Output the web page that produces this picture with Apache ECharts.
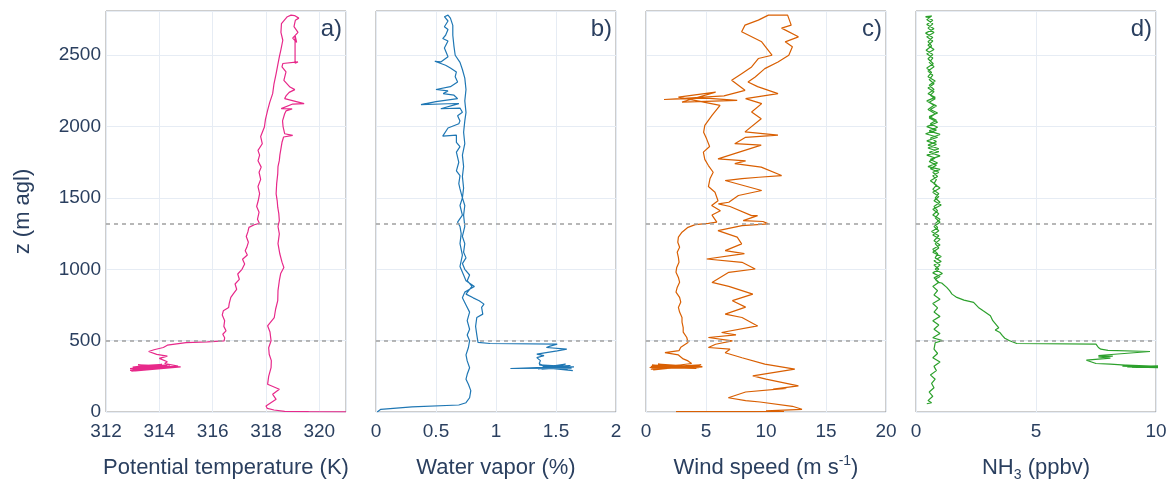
<!DOCTYPE html>
<html>
<head>
<meta charset="utf-8">
<script src="https://cdn.jsdelivr.net/npm/echarts@6/dist/echarts.min.js"></script>
<style>
  html, body { margin: 0; padding: 0; background: #fff; }
  #chart { width: 1169px; height: 487px; }
</style>
</head>
<body>
<div id="chart"></div>
<script>
// Vertical profiles: hover near 300 m, climb to ~2780 m, then descend to the ground.
// Each point is [value, altitude in m agl].

const potentialTemperature = [
  [313.0, 300], [314.2, 318], [312.9, 292], [314.4, 322], [313.1, 310], [314.6, 316], [312.95, 286],
  [314.0, 326], [313.2, 330], [314.5, 312], [313.0, 296], [313.9, 320], [312.9, 304], [314.3, 330],
  [313.1, 288], [314.8, 316], [313.4, 324], [313.0, 314], [314.1, 334], [313.3, 300], [314.7, 322],
  [314.2, 340], [314.3, 352], [314.0, 376], [314.3, 392], [313.9, 404], [313.6, 424], [313.8, 436],
  [314.15, 452], [314.1, 462], [314.3, 468], [314.25, 480], [315.0, 486], [315.8, 492], [316.43, 498],
  [316.45, 520], [316.38, 545], [316.5, 569], [316.42, 600], [316.45, 640], [316.36, 680], [316.4, 709],
  [316.6, 733], [316.62, 760], [316.68, 803], [316.78, 830], [316.9, 860], [316.84, 897], [317.0, 930],
  [316.94, 967], [317.1, 1000], [317.2, 1037], [317.12, 1070], [317.3, 1100], [317.22, 1130],
  [317.28, 1154], [317.34, 1190], [317.26, 1230], [317.32, 1262], [317.36, 1294], [317.56, 1312],
  [317.75, 1322], [317.68, 1350], [317.74, 1400], [317.65, 1440], [317.71, 1482], [317.76, 1530],
  [317.7, 1580], [317.8, 1630], [317.74, 1680], [317.82, 1716], [317.7, 1760], [317.76, 1800],
  [317.7, 1833], [317.86, 1880], [317.8, 1930], [317.94, 1997], [317.98, 2050], [318.06, 2114],
  [318.14, 2170], [318.25, 2231], [318.3, 2300], [318.38, 2371], [318.44, 2430], [318.5, 2488],
  [318.56, 2540], [318.63, 2605], [318.56, 2660], [318.58, 2722], [318.8, 2770], [318.94, 2781],
  [319.07, 2778], [319.23, 2760], [319.1, 2745], [319.05, 2700], [319.2, 2660], [319.0, 2620],
  [319.15, 2590], [319.09, 2640], [319.09, 2445], [319.2, 2453], [318.63, 2442], [318.6, 2418],
  [318.75, 2383], [318.67, 2324], [318.9, 2277], [319.08, 2259], [318.87, 2240], [318.75, 2215],
  [318.7, 2196], [319.43, 2161], [319.0, 2158], [318.57, 2126], [318.98, 2124], [318.75, 2110],
  [318.7, 2090], [318.62, 2040], [318.64, 2000], [318.7, 1950], [319.0, 1938], [318.66, 1927],
  [318.6, 1890], [318.57, 1856], [318.52, 1800], [318.5, 1763], [318.45, 1720], [318.44, 1669],
  [318.4, 1600], [318.38, 1529], [318.42, 1480], [318.44, 1435], [318.48, 1390], [318.5, 1341],
  [318.45, 1300], [318.5, 1248], [318.45, 1180], [318.52, 1107], [318.6, 1050], [318.67, 1013],
  [318.55, 970], [318.5, 920], [318.45, 850], [318.44, 780], [318.36, 720], [318.31, 662],
  [318.06, 604], [318.15, 560], [318.19, 499], [318.1, 450], [318.12, 405], [318.2, 360],
  [318.19, 311], [318.1, 250], [318.06, 194], [318.5, 159], [318.25, 124], [318.38, 89],
  [318.0, 42], [318.05, 25], [318.3, 14], [318.7, 4], [319.6, 2], [321.0, 1]
];

const waterVapor = [
  [1.5, 310], [1.62, 322], [1.38, 300], [1.65, 316], [1.36, 330], [1.6, 296], [1.4, 320], [1.63, 308],
  [1.12, 305], [1.45, 315], [1.64, 290], [1.38, 312], [1.58, 335], [1.35, 302], [1.62, 326], [1.4, 318],
  [1.36, 340], [1.37, 360], [1.34, 381], [1.4, 395], [1.34, 405], [1.51, 428], [1.59, 440], [1.42, 452],
  [1.45, 462], [1.51, 475], [0.95, 480], [0.85, 488], [0.84, 499], [0.84, 540], [0.83, 600],
  [0.84, 662], [0.89, 686], [0.88, 733], [0.9, 756], [0.86, 780], [0.81, 800], [0.75, 826],
  [0.78, 860], [0.8, 880], [0.76, 920], [0.78, 960], [0.74, 1000], [0.72, 1040], [0.75, 1080],
  [0.73, 1120], [0.74, 1180], [0.72, 1230], [0.74, 1300], [0.73, 1380], [0.74, 1447], [0.72, 1500],
  [0.73, 1570], [0.72, 1650], [0.73, 1720], [0.72, 1800], [0.74, 1880], [0.73, 1960], [0.74, 2040],
  [0.75, 2100], [0.74, 2180], [0.75, 2260], [0.74, 2340], [0.72, 2400], [0.7, 2450], [0.66, 2500],
  [0.65, 2560], [0.64, 2640], [0.64, 2709], [0.62, 2760], [0.6, 2781], [0.57, 2770], [0.6, 2740],
  [0.57, 2700], [0.6, 2680], [0.58, 2640], [0.556, 2617], [0.6, 2600], [0.57, 2550], [0.6, 2490],
  [0.54, 2453], [0.49, 2458], [0.58, 2430], [0.62, 2410], [0.67, 2383], [0.66, 2350], [0.68, 2313],
  [0.62, 2280], [0.5, 2260], [0.6, 2250], [0.56, 2231], [0.65, 2220], [0.68, 2196], [0.5, 2175],
  [0.375, 2154], [0.6, 2160], [0.69, 2161], [0.54, 2125], [0.7, 2130], [0.72, 2100], [0.68, 2076],
  [0.7, 2040], [0.69, 2020], [0.6, 1990], [0.556, 1933], [0.67, 1940], [0.67, 1890], [0.7, 1860],
  [0.67, 1821], [0.69, 1750], [0.67, 1690], [0.7, 1657], [0.69, 1600], [0.7, 1563], [0.72, 1500],
  [0.7, 1447], [0.72, 1380], [0.68, 1330], [0.7, 1300], [0.71, 1250], [0.7, 1180], [0.72, 1100],
  [0.7, 1020], [0.73, 960], [0.75, 920], [0.82, 880], [0.78, 860], [0.74, 840], [0.72, 800],
  [0.75, 750], [0.78, 700], [0.76, 640], [0.78, 580], [0.76, 540], [0.78, 499], [0.77, 452],
  [0.75, 400], [0.76, 358], [0.78, 310], [0.76, 264], [0.75, 230], [0.77, 194], [0.79, 150],
  [0.78, 100], [0.75, 65], [0.69, 49], [0.3, 36], [0.04, 19], [0.01, 0]
];

const windSpeed = [
  [2.0, 310], [4.5, 322], [0.4, 300], [4.7, 318], [0.5, 328], [4.2, 305], [0.3, 312], [4.6, 330],
  [0.6, 295], [4.0, 326], [0.4, 320], [4.4, 310], [1.0, 336], [4.7, 314], [0.5, 305], [3.8, 340],
  [3.5, 358], [3.1, 372], [2.7, 400], [1.58, 416], [2.75, 430], [2.9, 454], [3.5, 487], [3.4, 522],
  [3.1, 560], [3.1, 592], [3.0, 630], [3.0, 662], [2.8, 700], [2.7, 733], [2.9, 770], [2.8, 803],
  [2.5, 840], [2.6, 873], [2.8, 910], [2.7, 943], [2.5, 980], [2.56, 1013], [2.75, 1050], [2.7, 1084],
  [2.6, 1120], [2.8, 1154], [2.65, 1190], [2.7, 1225], [3.0, 1260], [3.5, 1294], [4.1, 1313],
  [5.2, 1322], [5.9, 1330], [5.5, 1380], [6.2, 1410], [5.47, 1447], [6.0, 1480], [5.75, 1540],
  [5.2, 1580], [5.33, 1634], [5.6, 1680], [5.2, 1727], [4.9, 1770], [4.78, 1821], [5.3, 1860],
  [5.05, 1914], [4.8, 1960], [4.9, 2008], [5.5, 2078], [6.17, 2149], [2.7, 2207], [5.8, 2242],
  [3.0, 2172], [7.6, 2184], [5.0, 2200], [1.5, 2190], [6.5, 2215], [8.25, 2254], [7.14, 2324],
  [7.97, 2371], [8.8, 2418], [9.36, 2477], [10.5, 2500], [9.64, 2594], [9.1, 2617], [7.97, 2664],
  [8.25, 2711], [9.36, 2746], [10.2, 2781], [11.8, 2781], [12.1, 2711], [11.3, 2690], [12.7, 2629],
  [11.6, 2594], [12.2, 2560], [11.9, 2500], [11.0, 2453], [9.9, 2406], [9.1, 2347], [8.5, 2313],
  [9.3, 2280], [11.0, 2231], [8.3, 2196], [9.64, 2161], [8.8, 2102], [9.6, 2055], [8.25, 1963],
  [11.0, 1940], [8.3, 1925], [7.4, 1880], [9.6, 1870], [6.0, 1774], [8.3, 1760], [7.4, 1740],
  [9.6, 1716], [11.3, 1657], [9.4, 1645], [8.0, 1635], [6.6, 1622], [9.64, 1552], [7.7, 1517],
  [6.9, 1470], [6.03, 1458], [7.0, 1440], [8.8, 1376], [9.3, 1376], [8.1, 1341], [9.75, 1335],
  [10.2, 1318], [8.0, 1306], [6.0, 1271], [7.6, 1225], [7.97, 1178], [6.6, 1131], [8.2, 1110],
  [5.06, 1072], [8.0, 1049], [9.1, 1002], [6.9, 979], [5.5, 908], [6.9, 880], [8.9, 826],
  [7.2, 780], [8.3, 735], [6.6, 686], [8.0, 662], [9.3, 603], [6.3, 557], [7.5, 540], [5.2, 522],
  [7.2, 499], [5.8, 475], [5.2, 452], [7.0, 440], [6.6, 415], [8.0, 380], [9.9, 335], [12.4, 300],
  [8.9, 253], [10.0, 230], [12.7, 183], [10.6, 160], [11.7, 165], [8.3, 140], [6.86, 100],
  [8.3, 80], [9.5, 70], [12.2, 40], [13.0, 19], [10.0, 8], [11.5, 4], [9.0, 3], [5.0, 3], [2.5, 3]
];

const ammonia = [
  [10.4, 318], [8.6, 322], [10.5, 310], [8.8, 316], [10.3, 325], [9.0, 312], [10.2, 320], [8.5, 330],
  [9.8, 316], [8.1, 335], [7.5, 340], [7.1, 363], [8.1, 377], [7.6, 386], [8.2, 392], [7.6, 396],
  [9.75, 424], [8.0, 432], [7.7, 440], [7.6, 452], [7.53, 463], [7.5, 475], [4.2, 480], [3.9, 499],
  [3.7, 517], [3.6, 535], [3.5, 557], [3.3, 575], [3.45, 590], [3.4, 604], [3.2, 640], [3.1, 674],
  [2.8, 709], [2.6, 733], [2.4, 768], [2.0, 784], [1.7, 803], [1.5, 826], [1.4, 850], [1.28, 873],
  [1.07, 904], [0.93, 908], [0.8, 930], [1.0, 950], [0.7, 975], [0.95, 1000], [0.75, 1030],
  [1.05, 1055], [0.8, 1080], [0.9, 1110], [0.7, 1140], [1.0, 1170], [0.75, 1200], [0.95, 1235],
  [0.65, 1265], [0.9, 1290], [0.8, 1320], [1.0, 1350], [0.7, 1380], [0.9, 1410], [0.75, 1440],
  [1.0, 1470], [0.8, 1500], [0.95, 1530], [0.7, 1560], [0.85, 1590], [0.6, 1620], [0.9, 1650],
  [0.7, 1680], [1.0, 1700], [0.5, 1720], [0.9, 1745], [0.6, 1770], [1.0, 1795], [0.55, 1820],
  [0.95, 1845], [0.5, 1870], [0.85, 1895], [0.6, 1920], [1.0, 1945], [0.55, 1970], [0.9, 1995],
  [0.6, 2020], [0.85, 2045], [0.55, 2070], [0.9, 2095], [0.6, 2120], [0.85, 2145], [0.55, 2170],
  [0.8, 2195], [0.6, 2220], [0.75, 2245], [0.5, 2270], [0.75, 2300], [0.55, 2330], [0.7, 2360],
  [0.5, 2390], [0.75, 2420], [0.55, 2450], [0.7, 2480], [0.45, 2510], [0.75, 2540], [0.5, 2570],
  [0.7, 2600], [0.45, 2630], [0.75, 2660], [0.5, 2690], [0.7, 2720], [0.45, 2750], [0.65, 2775],
  [0.4, 2770], [0.7, 2745], [0.45, 2715], [0.75, 2685], [0.4, 2655], [0.7, 2625], [0.5, 2595],
  [0.65, 2565], [0.42, 2535], [0.7, 2505], [0.5, 2475], [0.72, 2440], [0.45, 2410], [0.65, 2380],
  [0.5, 2350], [0.8, 2320], [0.55, 2290], [0.75, 2260], [0.5, 2230], [0.8, 2205], [0.45, 2180],
  [0.75, 2150], [0.5, 2120], [0.8, 2090], [0.55, 2060], [0.9, 2030], [0.45, 2000], [0.85, 1975],
  [0.4, 1950], [0.9, 1925], [0.45, 1900], [0.85, 1875], [0.5, 1850], [0.95, 1825], [0.45, 1800],
  [0.8, 1780], [0.55, 1755], [0.85, 1730], [0.6, 1705], [0.95, 1680], [0.7, 1655], [0.85, 1630],
  [0.75, 1600], [1.0, 1570], [0.7, 1540], [0.95, 1510], [0.75, 1480], [1.05, 1450], [0.7, 1420],
  [0.95, 1390], [0.8, 1360], [1.0, 1330], [0.75, 1300], [0.95, 1270], [0.7, 1240], [1.0, 1210],
  [0.8, 1180], [0.95, 1150], [0.7, 1120], [1.05, 1090], [0.75, 1060], [1.0, 1030], [0.8, 1000],
  [1.1, 970], [0.75, 940], [0.95, 910], [0.7, 880], [0.9, 850], [0.75, 820], [1.0, 790], [0.7, 760],
  [0.9, 730], [0.75, 700], [1.0, 670], [0.7, 640], [0.95, 610], [0.75, 580], [1.0, 550], [0.7, 520],
  [1.1, 500], [0.8, 485], [0.75, 440], [0.9, 410], [0.7, 380], [1.0, 350], [0.75, 320], [0.85, 290],
  [0.6, 260], [0.8, 230], [0.65, 200], [0.75, 170], [0.55, 140], [0.7, 110], [0.5, 80], [0.65, 65],
  [0.45, 58]
];

// Layer boundaries marked in every panel (m agl)
const layerTops = [500, 1320];

// Panel letters and x-axis titles
const panelLetters = ['a)', 'b)', 'c)', 'd)'];
const xTitles = [
  '{t|Potential temperature (K)}',
  '{t|Water vapor (%)}',
  '{t|Wind speed (m s}{sup|-1}{t|)}',
  '{t|NH}{sub|3}{t| (ppbv)}'
];
const xRanges = [[312, 321, 2], [0, 2, 0.5], [0, 20, 5], [0, 10, 5]];
const zRange = [0, 2810, 500];

const profiles = [potentialTemperature, waterVapor, windSpeed, ammonia];
const colors = ['#e7298a', '#1f77b4', '#d95f02', '#2ca02c'];

const FONT = '"Liberation Sans", Arial, Helvetica, sans-serif';
const INK = '#2a3f5f';
const GRID_LINE = '#e6ecf4';
const TICK_SIZE = 19;
const TITLE_SIZE = 22;

const panelLeft = [106, 376, 646, 916];
const panelWidth = 240;
const panelTop = 11;
const panelHeight = 401;

const chart = echarts.init(document.getElementById('chart'), null, { renderer: 'canvas' });

const grids = panelLeft.map(l => ({
  left: l, top: panelTop, width: panelWidth, height: panelHeight,
  show: true, borderColor: '#9a9a9a', borderWidth: 1, backgroundColor: 'transparent',
  containLabel: false, outerBoundsMode: 'none'
}));

const xAxes = xRanges.map((r, i) => ({
  type: 'value', gridIndex: i, min: r[0], max: r[1], interval: r[2],
  axisLine: { show: false }, axisTick: { show: false },
  splitLine: { show: true, lineStyle: { color: GRID_LINE, width: 1 } },
  axisLabel: {
    color: INK, fontFamily: FONT, fontSize: TICK_SIZE, margin: 10,
    showMaxLabel: i !== 0, showMinLabel: true,
    formatter: v => String(v)
  },
  name: xTitles[i], nameLocation: 'middle', nameGap: 42,
  nameTextStyle: {
    color: INK, fontFamily: FONT, fontSize: TITLE_SIZE,
    rich: {
      t: { color: INK, fontFamily: FONT, fontSize: TITLE_SIZE, lineHeight: 28 },
      sup: { color: INK, fontFamily: FONT, fontSize: 14, verticalAlign: 'top', lineHeight: 28 },
      sub: { color: INK, fontFamily: FONT, fontSize: 14, verticalAlign: 'bottom', lineHeight: 28 }
    }
  }
}));

const yAxes = [0, 1, 2, 3].map(i => ({
  type: 'value', gridIndex: i, min: zRange[0], max: zRange[1], interval: zRange[2],
  axisLine: { show: false }, axisTick: { show: false },
  splitLine: { show: true, lineStyle: { color: GRID_LINE, width: 1 } },
  axisLabel: {
    show: i === 0, color: INK, fontFamily: FONT, fontSize: TICK_SIZE, margin: 5,
    showMaxLabel: false,
    formatter: v => String(v)
  },
  name: i === 0 ? 'z (m agl)' : '', nameLocation: 'middle', nameGap: 72, nameRotate: 90,
  nameTextStyle: { color: INK, fontFamily: FONT, fontSize: TITLE_SIZE }
}));

const series = profiles.map((data, i) => ({
  type: 'line', xAxisIndex: i, yAxisIndex: i, data: data,
  showSymbol: false, symbol: 'none', clip: true,
  lineStyle: { color: colors[i], width: 1.2 },
  markLine: {
    silent: true, symbol: 'none', animation: false,
    label: { show: false },
    lineStyle: { color: '#a0a0a0', type: [4, 4], width: 1.5 },
    data: layerTops.map(z => ({ yAxis: z }))
  },
  z: 3
}));

const letters = panelLetters.map((t, i) => ({
  type: 'text',
  right: 1169 - (panelLeft[i] + panelWidth - 4),
  top: panelTop + 6,
  style: { text: t, fill: INK, font: `24px ${FONT}` },
  z: 10
}));

chart.setOption({
  animation: false,
  backgroundColor: '#ffffff',
  grid: grids,
  xAxis: xAxes,
  yAxis: yAxes,
  series: series,
  graphic: letters
});
</script>
</body>
</html>
